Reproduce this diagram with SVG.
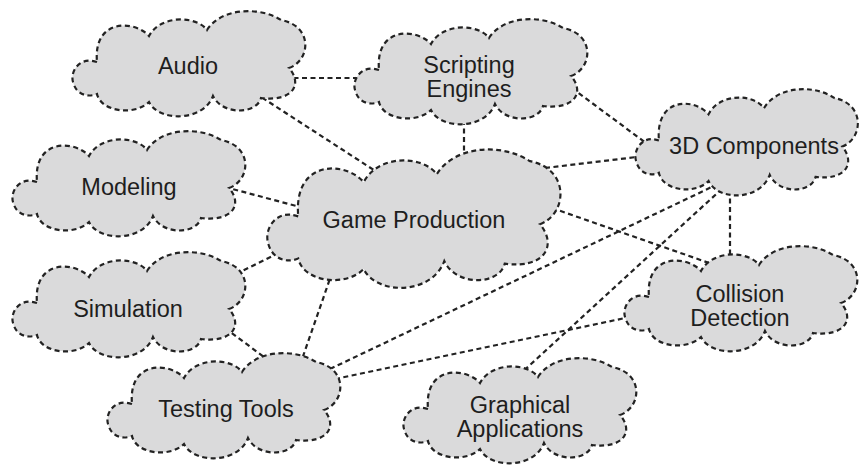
<svg xmlns="http://www.w3.org/2000/svg" xmlns:xlink="http://www.w3.org/1999/xlink" width="859" height="466" viewBox="0 0 859 466">
<style>
.edge{fill:none;stroke:#222;stroke-width:2.2;stroke-dasharray:5 3.5}
.cloud{fill:#dadadb;stroke:#222;stroke-width:2.2;stroke-dasharray:5 3.5}
.big{stroke-width:1.71;stroke-dasharray:3.9 2.7}
.lbl{font-family:"Liberation Sans",Arial,Helvetica,sans-serif;font-size:23.5px;fill:#1e1e1e;text-anchor:middle}
</style>
<defs>
<path id="cl" d="M24,52 C6,46 -3,62 0,72 C3,84 14,88 24,84 C28,102 62,106 76,92 C86,112 130,112 140,86 C150,106 184,104 188,88 C220,92 230,74 216,58 C238,50 240,16 208,10 C186,-4 148,-2 134,20 C124,6 88,4 76,26 C62,10 20,8 24,52 Z"/>
</defs>
<rect width="859" height="466" fill="#fff"/>
<g id="connectors">
<line class="edge" x1="285" y1="78" x2="365" y2="78"/>
<line class="edge" x1="255" y1="93" x2="380" y2="174"/>
<line class="edge" x1="464" y1="120" x2="464" y2="160"/>
<line class="edge" x1="565" y1="83" x2="650" y2="146"/>
<line class="edge" x1="225" y1="187" x2="300" y2="207"/>
<line class="edge" x1="236" y1="274" x2="285" y2="250"/>
<line class="edge" x1="545" y1="168" x2="645" y2="156"/>
<line class="edge" x1="552" y1="208" x2="712" y2="264"/>
<line class="edge" x1="300" y1="365" x2="333" y2="270"/>
<line class="edge" x1="225" y1="328" x2="268" y2="360"/>
<line class="edge" x1="330" y1="369" x2="718" y2="184"/>
<line class="edge" x1="335" y1="379" x2="630" y2="317"/>
<line class="edge" x1="518" y1="376" x2="725" y2="186"/>
<line class="edge" x1="730" y1="190" x2="730" y2="262"/>
</g>
<g id="audio"><use xlink:href="#cl" href="#cl" class="cloud" transform="translate(73,10)"/><text class="lbl" x="188" y="74">Audio</text></g>
<g id="scripting"><use xlink:href="#cl" href="#cl" class="cloud" transform="translate(355,18)"/><text class="lbl" x="469" y="73">Scripting</text><text class="lbl" x="469" y="97">Engines</text></g>
<g id="components3d"><use xlink:href="#cl" href="#cl" class="cloud" transform="translate(636,88) scale(0.955,1.01)"/><text class="lbl" x="754" y="154">3D Components</text></g>
<g id="modeling"><use xlink:href="#cl" href="#cl" class="cloud" transform="translate(13,130)"/><text class="lbl" x="129" y="195">Modeling</text></g>
<g id="gameproduction"><use xlink:href="#cl" href="#cl" class="cloud big" transform="translate(268,148) scale(1.259,1.315)"/><text class="lbl" x="414" y="228">Game Production</text></g>
<g id="simulation"><use xlink:href="#cl" href="#cl" class="cloud" transform="translate(13,251)"/><text class="lbl" x="128" y="317">Simulation</text></g>
<g id="testingtools"><use xlink:href="#cl" href="#cl" class="cloud" transform="translate(108,352)"/><text class="lbl" x="226" y="417">Testing Tools</text></g>
<g id="collision"><use xlink:href="#cl" href="#cl" class="cloud" transform="translate(625,245)"/><text class="lbl" x="740" y="302">Collision</text><text class="lbl" x="740" y="326">Detection</text></g>
<g id="graphical"><use xlink:href="#cl" href="#cl" class="cloud" transform="translate(404,357)"/><text class="lbl" x="520" y="413">Graphical</text><text class="lbl" x="520" y="437">Applications</text></g>
</svg>
